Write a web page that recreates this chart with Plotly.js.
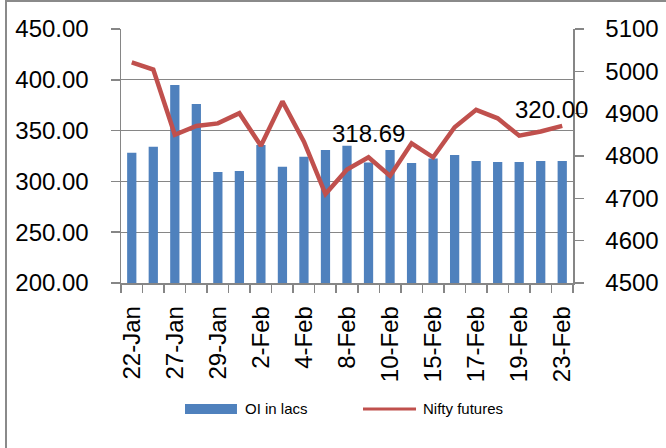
<!DOCTYPE html>
<html>
<head>
<meta charset="utf-8">
<script src="https://cdn.plot.ly/plotly-3.0.1.min.js"></script>
<style>
html,body{margin:0;padding:0;background:#fff;}
#chart{width:666px;height:448px;position:absolute;left:0;top:0;}
#frame{position:absolute;left:5px;top:0px;width:661px;height:448px;border-left:2px solid #8a8a8a;border-top:2px solid #8a8a8a;pointer-events:none;box-sizing:border-box;}
</style>
</head>
<body>
<div id="chart"></div>
<div id="frame"></div>
<script>
const dates = ["22-Jan","25-Jan","27-Jan","28-Jan","29-Jan","1-Feb","2-Feb","3-Feb","4-Feb","5-Feb","8-Feb","9-Feb","10-Feb","11-Feb","15-Feb","16-Feb","17-Feb","18-Feb","19-Feb","22-Feb","23-Feb"];
const oiLacs = [328.2,334.1,395.0,376.2,309.2,310.2,335.8,314.4,324.3,330.9,335.0,318.69,330.9,318.0,322.5,326.0,320.0,319.0,319.0,320.0,320.00];
const niftyFutures = [5021,5004,4850,4871,4877,4901,4824,4929,4834,4710,4768,4797,4753,4830,4797,4868,4909,4889,4848,4858,4871];
const tickText = dates.map((d,i)=> i%2===0 ? d : "");
const labelIdx = [11,20];
const labelShift = [[0,29],[-11,52]];

const FONT = "Liberation Sans, Arial, sans-serif";
const GRID = "#868686";

const traces = [
  {type:"bar", x:dates, y:oiLacs, name:"OI in lacs", marker:{color:"#4F81BD"}, yaxis:"y", showlegend:false, hoverinfo:"skip"},
  {type:"scatter", mode:"lines", x:dates, y:niftyFutures, name:"Nifty futures", line:{color:"#C0504D", width:4.5}, yaxis:"y2", showlegend:false, hoverinfo:"skip"}
];

const annotations = labelIdx.map((idx,k)=>({
  x:dates[idx], y:oiLacs[idx], xref:"x", yref:"y", text:oiLacs[idx].toFixed(2),
  showarrow:false, xshift:labelShift[k][0], yshift:labelShift[k][1], yanchor:"middle",
  font:{family:FONT, size:24, color:"#000"}
}));
annotations.push(
  {x:0.27, y:-0.496, xref:"paper", yref:"paper", text:"OI in lacs", showarrow:false, xanchor:"left", yanchor:"middle", font:{family:FONT, size:15, color:"#000"}},
  {x:0.6637, y:-0.496, xref:"paper", yref:"paper", text:"Nifty futures", showarrow:false, xanchor:"left", yanchor:"middle", font:{family:FONT, size:15, color:"#000"}}
);

const layout = {
  width:666, height:448,
  margin:{l:121, r:93, t:29, b:165, pad:0},
  paper_bgcolor:"#fff", plot_bgcolor:"#fff",
  font:{family:FONT, size:24, color:"#000"},
  bargap:0.57,
  showlegend:false,
  xaxis:{type:"category", range:[-0.5,20.5], tickmode:"array", tickvals:dates, ticktext:tickText,
    tickson:"boundaries", ticks:"outside", ticklen:8, tickwidth:1.5, tickcolor:GRID,
    showline:true, linecolor:GRID, linewidth:1.5, showgrid:false, zeroline:false,
    tickangle:-90, ticklabelstandoff:12, tickfont:{family:FONT, size:24, color:"#000"}},
  yaxis:{range:[200,450], dtick:50, tick0:200, tickformat:".2f", showgrid:true, gridcolor:GRID, gridwidth:1.3,
    ticks:"outside", ticklen:9, tickwidth:1.5, tickcolor:GRID, showline:true, linecolor:GRID, linewidth:1.5,
    zeroline:false, ticklabelstandoff:17, tickfont:{family:FONT, size:24, color:"#000"}},
  yaxis2:{range:[4500,5100], dtick:100, tick0:4500, overlaying:"y", side:"right", showgrid:false,
    ticks:"outside", ticklen:9, tickwidth:1.5, tickcolor:GRID, showline:true, linecolor:GRID, linewidth:1.5,
    zeroline:false, ticklabelstandoff:17, tickfont:{family:FONT, size:24, color:"#000"}},
  shapes:[
    {type:"rect", xref:"paper", yref:"paper", x0:0.1416, x1:0.2566, y0:-0.5157, y1:-0.4764, fillcolor:"#4F81BD", line:{width:0}},
    {type:"line", xref:"paper", yref:"paper", x0:0.5354, x1:0.6527, y0:-0.496, y1:-0.496, line:{color:"#C0504D", width:3}}
  ],
  annotations:annotations
};

Plotly.newPlot("chart", traces, layout, {displayModeBar:false, staticPlot:true});
</script>
</body>
</html>
